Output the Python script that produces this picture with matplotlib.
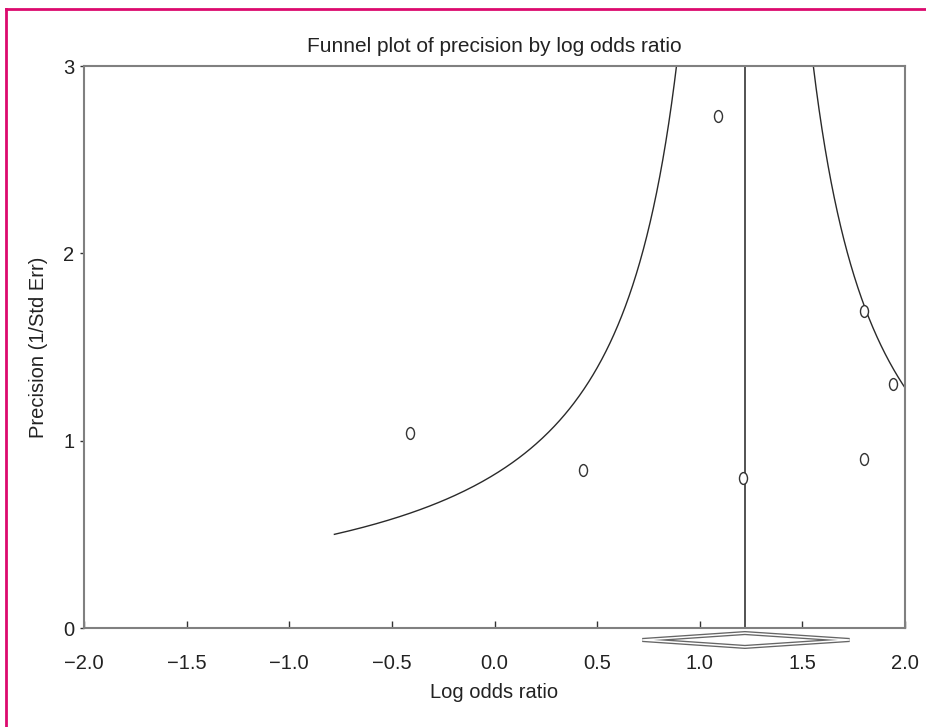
import numpy as np
import matplotlib
matplotlib.use("Agg")
import matplotlib.pyplot as plt
from matplotlib.path import Path
from matplotlib.transforms import Affine2D
from matplotlib.patches import Polygon

plt.rcParams['font.family'] = ['Liberation Sans', 'DejaVu Sans']

# --- study data ---
log_odds_ratio = [-0.41, 0.43, 1.09, 1.21, 1.80, 1.80, 1.94]
precision = [1.04, 0.845, 2.735, 0.80, 1.69, 0.90, 1.30]

pooled_lor = 1.22          # combined estimate (vertical line)
pooled_ci = (0.72, 1.73)   # diamond below the axis
funnel_min_prec = 0.5
funnel_max_prec = 3.0

x_ticks = [-2.0, -1.5, -1.0, -0.5, 0.0, 0.5, 1.0, 1.5, 2.0]
y_ticks = [0, 1, 2, 3]

FS = 14.5
TXT = '#222222'

# --- figure ---
fig = plt.figure(figsize=(9.26, 7.27), dpi=100)
ax = fig.add_axes([84 / 926, 1 - 628 / 727, (905 - 84) / 926, (628 - 66) / 727])

# funnel limits: pooled +/- 1 / precision
p = np.linspace(funnel_min_prec, funnel_max_prec, 400)
ax.plot(pooled_lor - 1 / p, p, color='#2a2a2a', lw=1.0)
ax.plot(pooled_lor + 1 / p, p, color='#2a2a2a', lw=1.0)
ax.axvline(pooled_lor, color='#444444', lw=1.3)

# studies, drawn as small open ellipses
ellipse = Path.unit_circle().transformed(Affine2D().scale(0.68, 1.0))
ax.plot(log_odds_ratio, precision, linestyle='none', marker=ellipse,
        markersize=8.5, markerfacecolor='white', markeredgecolor='#333333',
        markeredgewidth=1.0)

# pooled diamond under the axis (double outline)
lo, hi = pooled_ci
yc, hh = -0.064, 0.037
diamond = [(lo, yc), (pooled_lor, yc + hh), (hi, yc), (pooled_lor, yc - hh)]
ax.add_patch(Polygon(diamond, closed=True, facecolor='white', edgecolor='#666666',
                     lw=3.0, clip_on=False, zorder=3))
ax.add_patch(Polygon(diamond, closed=True, facecolor='none', edgecolor='white',
                     lw=1.1, clip_on=False, zorder=4))

ax.set_xlim(-2.0, 2.0)
ax.set_ylim(0, 3)
ax.set_xticks(x_ticks)
ax.set_xticklabels([f"{t:.1f}".replace('-', '\u2212') for t in x_ticks])
ax.set_yticks(y_ticks)

for s in ax.spines.values():
    s.set_color('#808080')
    s.set_linewidth(1.5)

ax.tick_params(axis='x', direction='in', length=5, width=1, color='#333333',
               labelsize=FS, pad=19, labelcolor=TXT)
ax.tick_params(axis='y', direction='out', length=3, width=1, color='#333333',
               labelsize=FS, pad=4, labelcolor=TXT)

ax.set_xlabel("Log odds ratio", fontsize=FS, color=TXT, labelpad=7)
ax.set_ylabel("Precision (1/Std Err)", fontsize=FS, color=TXT, labelpad=11)
fig.text(494 / 926, 1 - 46 / 727, "Funnel plot of precision by log odds ratio",
         ha='center', va='center', fontsize=15, color=TXT)

# magenta page border (top and left only)
border = '#DC0A6E'
fig.add_artist(plt.Line2D([6 / 926, 6 / 926], [0, 1 - 9 / 727], color=border,
                          lw=2, transform=fig.transFigure))
fig.add_artist(plt.Line2D([6 / 926, 1], [1 - 9 / 727, 1 - 9 / 727], color=border,
                          lw=2, transform=fig.transFigure))

fig.savefig("out.png", dpi=100)
